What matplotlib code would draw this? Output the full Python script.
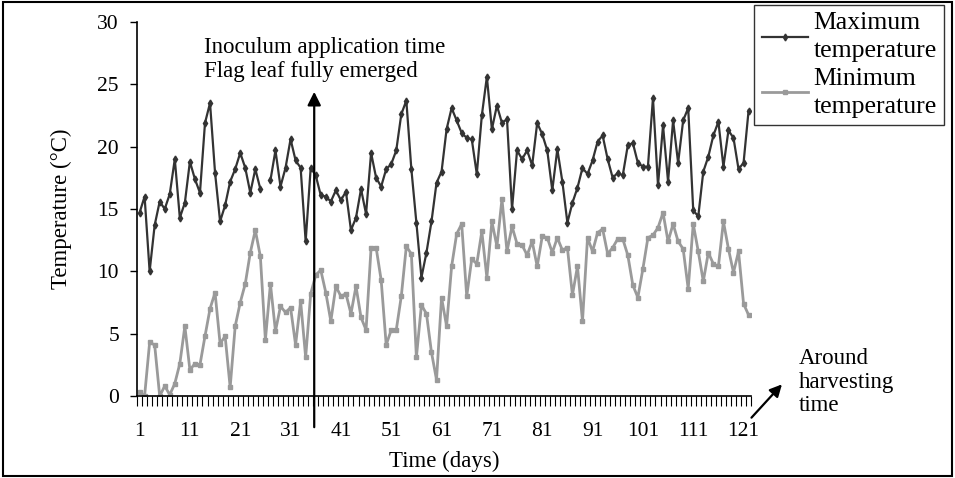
import numpy as np
import matplotlib
matplotlib.use('Agg')
import matplotlib.pyplot as plt
from matplotlib.patches import Rectangle

plt.rcParams['font.family'] = ['Liberation Serif', 'DejaVu Serif']

# daily values (day 26 max missing)
days = np.arange(1, 123)
t_max = [14.7, 16.0, 10.0, 13.7, 15.6, 15.0, 16.2, 19.0, 14.3, 15.5,
         18.8, 17.4, 16.3, 21.9, 23.5, 17.9, 14.0, 15.3, 17.2, 18.2,
         19.5, 18.3, 16.3, 18.2, 16.6, np.nan, 17.3, 19.7, 16.8, 18.3,
         20.6, 18.9, 18.3, 12.4, 18.3, 17.7, 16.1, 16.0, 15.6, 16.5,
         15.7, 16.4, 13.3, 14.3, 16.6, 14.6, 19.5, 17.5, 16.8, 18.2,
         18.6, 19.7, 22.6, 23.7, 18.2, 13.9, 9.5, 11.5, 14.0, 17.1,
         18.0, 21.4, 23.1, 22.1, 21.1, 20.7, 20.6, 17.8, 22.5, 25.6,
         21.4, 23.3, 21.9, 22.2, 15.0, 19.7, 19.0, 19.7, 18.5, 21.9,
         21.0, 19.7, 16.5, 19.8, 17.2, 13.9, 15.5, 16.7, 18.3, 17.8,
         18.9, 20.4, 20.9, 19.0, 17.5, 17.9, 17.7, 20.1, 20.3, 18.7,
         18.4, 18.4, 23.9, 16.9, 21.7, 17.2, 22.1, 18.7, 22.1, 23.1,
         14.9, 14.4, 18.0, 19.2, 20.9, 22.0, 18.4, 21.3, 20.7, 18.2,
         18.7, 22.9]
t_min = [0.3, 0.0, 4.3, 4.1, 0.0, 0.8, 0.1, 1.0, 2.6, 5.6,
         2.1, 2.6, 2.5, 4.8, 7.0, 8.3, 4.2, 4.8, 0.7, 5.6,
         7.5, 9.0, 11.5, 13.3, 11.2, 4.5, 9.0, 5.2, 7.2, 6.7,
         7.1, 4.1, 7.6, 3.1, 8.2, 9.7, 10.1, 8.3, 6.0, 8.8,
         8.0, 8.2, 6.6, 8.8, 6.3, 5.3, 11.9, 11.9, 9.3, 4.1,
         5.3, 5.3, 8.0, 12.0, 11.4, 3.1, 7.3, 6.6, 3.5, 1.3,
         7.9, 5.6, 10.4, 13.0, 13.8, 8.0, 11.0, 10.6, 13.2, 9.5,
         14.0, 12.0, 15.8, 11.6, 13.6, 12.2, 12.1, 11.3, 12.4, 10.4,
         12.8, 12.7, 11.5, 12.7, 11.7, 11.9, 8.1, 10.4, 6.0, 12.7,
         11.6, 13.1, 13.4, 11.4, 11.9, 12.6, 12.6, 11.3, 8.9, 7.9,
         10.2, 12.7, 12.9, 13.5, 14.7, 12.4, 13.8, 12.4, 11.8, 8.6,
         13.8, 11.6, 9.2, 11.5, 10.6, 10.4, 14.0, 11.8, 9.9, 11.6,
         7.4, 6.5]
x_labels = list(range(1, 122, 10))

fig = plt.figure(figsize=(9.55, 4.78), dpi=100)
ax = fig.add_axes([0.1435, 0.1715, 0.643, 0.7825])

ax.plot(days, t_max, color='#333333', lw=1.6, marker='d', ms=3.5,
        label='Maximum\ntemperature')
ax.plot(days, t_min, color='#9a9a9a', lw=2.0, marker='s', ms=3.5,
        label='Minimum\ntemperature')

ax.set_xlim(0.5, 122.5)
ax.set_ylim(0, 30)
ax.set_yticks(range(0, 31, 5))
ax.set_xticks(x_labels)
ax.set_xticks(np.arange(0.5, 123, 1), minor=True)
ax.tick_params(axis='x', which='major', length=0, pad=19, labelsize=15.5)
ax.tick_params(axis='x', which='minor', length=7, width=0.8, direction='out')
ax.tick_params(axis='y', length=5, width=1, pad=8, labelsize=15.5)
for s in ['top', 'right']:
    ax.spines[s].set_visible(False)
ax.spines['left'].set_linewidth(1.2)
ax.spines['bottom'].set_linewidth(1.2)

ax.set_xlabel('Time (days)', fontsize=16.5, labelpad=7)
ax.set_ylabel('Temperature (\u00b0C)', fontsize=16.5, labelpad=18)

# inoculation arrow
ax.annotate('', xy=(35.7, 24.4), xytext=(35.7, -2.5),
            arrowprops=dict(arrowstyle='-|>', color='black', lw=1.6,
                            mutation_scale=20, shrinkA=0, shrinkB=0),
            annotation_clip=False)
ax.text(13.8, 27.0, 'Inoculum application time\nFlag leaf fully emerged',
        fontsize=16.5, va='center', ha='left', linespacing=1.15)

# harvesting arrow
ax.annotate('', xy=(129.0, 1.1), xytext=(122.2, -1.9),
            arrowprops=dict(arrowstyle='-|>', color='black', lw=1.6,
                            mutation_scale=18), annotation_clip=False)
ax.text(132.0, 1.1, 'Around\nharvesting\ntime', fontsize=16.5,
        va='center', ha='left', linespacing=1.15, clip_on=False)

leg = fig.legend(loc='upper right', bbox_to_anchor=(0.989, 0.99),
                 fontsize=18.5, frameon=True, fancybox=False,
                 edgecolor='#333333', framealpha=1, handlelength=1.8,
                 handletextpad=0.2, borderpad=0.3, labelspacing=0.2,
                 borderaxespad=0.0)
for t in leg.get_texts():
    t.set_linespacing(1.35)

fig.patches.append(Rectangle((0.003, 0.004), 0.994, 0.992, fill=False,
                             ec='black', lw=1.5, transform=fig.transFigure))

fig.savefig('out.png', dpi=100)
